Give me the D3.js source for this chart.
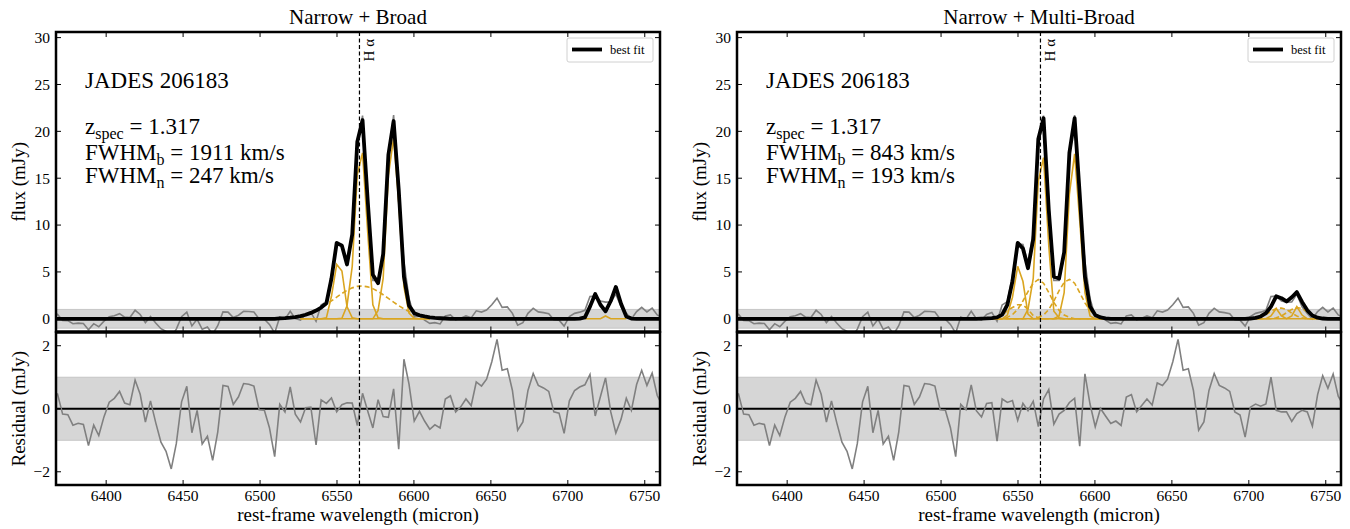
<!DOCTYPE html>
<html>
<head>
<meta charset="utf-8">
<script src="https://cdn.jsdelivr.net/npm/d3@7"></script>
<style>
  body { margin: 0; background: #fff; }
  svg { display: block; font-family: "Liberation Serif", "DejaVu Serif", serif; }
</style>
</head>
<body>
<svg id="chart" width="1350" height="529"></svg>
<script>
// rest-frame wavelength grid of the spectrum (Angstrom)
const WAVE = [
  6365.0, 6368.4, 6371.7, 6375.1, 6378.4, 6381.8, 6385.2, 6388.5, 6391.9, 6395.2,
  6398.6, 6402.0, 6405.3, 6408.7, 6412.0, 6415.4, 6418.8, 6422.1, 6425.5, 6428.8,
  6432.2, 6435.6, 6438.9, 6442.3, 6445.6, 6449.0, 6452.4, 6455.7, 6459.1, 6462.4,
  6465.8, 6469.2, 6472.5, 6475.9, 6479.2, 6482.6, 6486.0, 6489.3, 6492.7, 6496.0,
  6499.4, 6502.8, 6506.1, 6509.5, 6512.8, 6516.2, 6519.6, 6522.9, 6526.3, 6529.6,
  6533.0, 6536.4, 6539.7, 6543.1, 6546.4, 6549.8, 6553.2, 6556.5, 6559.9, 6563.2,
  6566.6, 6570.0, 6573.3, 6576.7, 6580.0, 6583.4, 6586.8, 6590.1, 6593.5, 6596.8,
  6600.2, 6603.6, 6606.9, 6610.3, 6613.6, 6617.0, 6620.4, 6623.7, 6627.1, 6630.4,
  6633.8, 6637.2, 6640.5, 6643.9, 6647.2, 6650.6, 6654.0, 6657.3, 6660.7, 6664.0,
  6667.4, 6670.8, 6674.1, 6677.5, 6680.8, 6684.2, 6687.6, 6690.9, 6694.3, 6697.6,
  6701.0, 6704.4, 6707.7, 6711.1, 6714.4, 6717.8, 6721.2, 6724.5, 6727.9, 6731.2,
  6734.6, 6738.0, 6741.3, 6744.7, 6748.0, 6751.4, 6754.8, 6758.1, 6761.5
];

// observed flux (mJy)
const FLUX_OBS = [
  0.47, 0.47, -0.17, -0.19, -0.52, -0.46, -0.50, -1.17, -0.52, -0.85,
  -0.25, 0.21, 0.33, 0.55, 0.18, 0.13, 0.91, 0.46, -0.42, 0.25,
  -0.44, -1.06, -1.35, -1.91, -1.10, 0.22, 0.71, -0.76, -0.05, -1.12,
  -0.87, -1.64, -0.74, 0.74, 0.71, 0.14, 0.38, 0.80, 0.78, 0.72,
  -0.03, -0.05, -0.60, -1.52, 0.19, -0.03, 0.81, 0.02, -0.13, 0.46,
  0.68, -0.27, 1.48, 1.82, 4.64, 8.00, 7.93, 5.99, 9.18, 18.37,
  21.69, 12.42, 4.09, 4.09, 6.65, 17.23, 21.73, 12.52, 6.07, 2.18,
  0.21, 0.30, -0.14, -0.49, -0.41, -0.55, 0.31, 0.41, -0.10, 0.06,
  0.31, 0.10, 0.85, 0.72, 0.94, 1.49, 2.20, 1.22, 1.27, 0.58,
  -0.68, -0.42, 0.58, 1.12, 0.74, 0.66, 0.55, -0.10, -0.14, -0.78,
  0.25, 0.58, 0.71, 0.91, 2.39, 2.42, 1.89, 1.78, 1.80, 2.63,
  1.27, 0.58, -0.03, 0.77, 1.22, 0.74, 1.13, 0.42, 0.10
];

// best fit, narrow + broad
const MODEL_NB = [
  0, 0, 0, 0, 0, 0, 0, 0, 0, 0,
  0, 0, 0, 0, 0, 0, 0, 0, 0, 0,
  0, 0, 0, 0, 0, 0, 0, 0, 0, 0,
  0, 0, 0, 0, 0, 0, 0, 0, 0, 0,
  0, 0, 0, 0, 0.05, 0.07, 0.12, 0.19, 0.29, 0.43,
  0.63, 0.88, 1.2, 1.65, 4.3, 8.1, 7.8, 5.8, 9.0, 18.9,
  21.2, 12.5, 4.7, 3.8, 6.9, 17.5, 21.1, 13.8, 4.5, 1.4,
  0.6, 0.38, 0.25, 0.16, 0.1, 0.06, 0.03, 0, 0, 0,
  0, 0, 0, 0, 0, 0, 0, 0, 0, 0,
  0, 0, 0, 0, 0, 0, 0, 0, 0, 0,
  0, 0, 0.02, 0.15, 1.3, 2.65, 1.5, 0.8, 1.9, 3.4,
  1.6, 0.25, 0.02, 0, 0, 0, 0, 0, 0
];

// best fit, narrow + multi-broad
const MODEL_NMB = [
  0, 0, 0, 0, 0, 0, 0, 0, 0, 0,
  0, 0, 0, 0, 0, 0, 0, 0, 0, 0,
  0, 0, 0, 0, 0, 0, 0, 0, 0, 0,
  0, 0, 0, 0, 0, 0, 0, 0, 0, 0,
  0, 0, 0, 0, 0, 0, 0, 0, 0.02, 0.04,
  0.08, 0.15, 0.45, 1.5, 4.0, 8.1, 7.5, 5.4, 8.5, 19.2,
  21.4, 11.6, 4.5, 4.3, 7.1, 17.7, 21.4, 13.3, 4.5, 1.3,
  0.4, 0.15, 0.05, 0, 0, 0, 0, 0, 0, 0,
  0, 0, 0, 0, 0, 0, 0, 0, 0, 0,
  0, 0, 0, 0, 0, 0, 0, 0, 0, 0,
  0.03, 0.1, 0.25, 0.6, 1.3, 2.4, 2.2, 1.85, 2.3, 2.85,
  1.8, 0.9, 0.35, 0.12, 0.03, 0, 0, 0, 0
];

// residuals (mJy)
const RESID_NB = [
  0.47, 0.47, -0.17, -0.19, -0.52, -0.46, -0.50, -1.17, -0.52, -0.85,
  -0.25, 0.21, 0.33, 0.55, 0.18, 0.13, 0.91, 0.46, -0.42, 0.25,
  -0.44, -1.06, -1.35, -1.91, -1.10, 0.22, 0.71, -0.76, -0.05, -1.12,
  -0.87, -1.64, -0.74, 0.74, 0.71, 0.14, 0.38, 0.80, 0.78, 0.72,
  -0.03, -0.05, -0.60, -1.52, 0.14, -0.10, 0.69, -0.17, -0.42, 0.03,
  0.05, -1.15, 0.28, 0.17, 0.34, -0.10, 0.13, 0.19, 0.18, -0.53,
  0.49, -0.08, -0.61, 0.29, -0.25, -0.27, 0.63, -1.28, 1.57, 0.78,
  -0.39, -0.08, -0.39, -0.65, -0.51, -0.61, 0.31, 0.41, -0.10, 0.06,
  0.31, 0.10, 0.85, 0.72, 0.94, 1.49, 2.20, 1.22, 1.27, 0.58,
  -0.68, -0.42, 0.58, 1.12, 0.74, 0.66, 0.55, -0.10, -0.14, -0.78,
  0.25, 0.58, 0.69, 0.76, 1.09, -0.23, 0.39, 0.98, -0.10, -0.77,
  -0.33, 0.33, -0.05, 0.77, 1.22, 0.74, 1.13, 0.42, 0.10
];

const RESID_NMB = [
  0.47, 0.47, -0.17, -0.19, -0.52, -0.46, -0.50, -1.17, -0.52, -0.85,
  -0.25, 0.21, 0.33, 0.55, 0.18, 0.13, 0.91, 0.46, -0.42, 0.25,
  -0.44, -1.06, -1.35, -1.91, -1.10, 0.22, 0.71, -0.76, -0.05, -1.12,
  -0.87, -1.64, -0.74, 0.74, 0.71, 0.14, 0.38, 0.80, 0.78, 0.72,
  -0.03, -0.05, -0.60, -1.52, 0.14, -0.03, 0.76, -0.06, -0.26, 0.17,
  0.19, -1.03, 0.31, 0.20, 0.26, -0.37, 0.17, -0.06, 0.24, -0.57,
  0.31, 0.61, -0.49, -0.17, -0.05, 0.20, 0.33, -1.19, 1.11, 0.15,
  -0.57, 0.01, -0.23, -0.47, -0.39, -0.53, 0.37, 0.45, -0.10, 0.10,
  0.31, 0.12, 0.82, 0.74, 0.94, 1.49, 2.20, 1.22, 1.27, 0.58,
  -0.68, -0.42, 0.58, 1.12, 0.74, 0.66, 0.55, -0.10, -0.20, -0.90,
  0.05, 0.15, 0.08, 0.15, 1.00, -0.05, -0.10, -0.10, -0.40, -0.15,
  -0.05, -0.10, -0.55, 0.45, 1.05, 0.65, 1.10, 0.40, 0.10
];

// component windows (index range into WAVE)
const HA_WIN = [48, 73];
const SII_WIN_NB = [103, 111];
const SII_WIN_NMB = [100, 114];

// narrow + broad components
const NB_NII6548 = [0, 0, 0, 0, 0, 0.1, 2.4, 5.8, 5.1, 1.3, 0.1, 0, 0, 0, 0, 0, 0, 0, 0, 0, 0, 0, 0, 0, 0, 0];
const NB_HA_NARROW = [0, 0, 0, 0, 0, 0, 0, 0, 0.05, 1.4, 5.6, 15.4, 17.7, 9.1, 1.5, 0.1, 0, 0, 0, 0, 0, 0, 0, 0, 0, 0];
const NB_NII6585 = [0, 0, 0, 0, 0, 0, 0, 0, 0, 0, 0, 0, 0, 0, 0, 0.9, 4.3, 15.3, 19.3, 12.4, 3.4, 0.6, 0.05, 0, 0, 0];
const NB_HA_BROAD = [0.29, 0.43, 0.63, 0.88, 1.18, 1.53, 1.91, 2.31, 2.70, 3.04, 3.30, 3.46, 3.50, 3.41, 3.22, 2.92, 2.57, 2.17, 1.77, 1.40, 1.06, 0.78, 0.55, 0.38, 0.25, 0.16];
const NB_SII = [0, 0, 0, 0, 0.3, 0, 0, 0, 0];

// narrow + multi-broad components
const NMB_NII6548_N = [0, 0, 0, 0, 0, 0.4, 2.3, 5.6, 4.0, 0.5, 0, 0, 0, 0, 0, 0, 0, 0, 0, 0, 0, 0, 0, 0, 0, 0];
const NMB_NII6548_B = [0, 0, 0, 0, 0.3, 0.9, 1.2, 1.5, 1.5, 1.0, 0.35, 0.1, 0, 0, 0, 0, 0, 0, 0, 0, 0, 0, 0, 0, 0, 0];
const NMB_HA_N = [0, 0, 0, 0, 0, 0, 0, 0, 0, 1.0, 4.3, 14.7, 17.2, 7.8, 0.8, 0.1, 0, 0, 0, 0, 0, 0, 0, 0, 0, 0];
const NMB_HA_B = [0, 0, 0, 0, 0, 0.17, 0.45, 1.0, 1.9, 2.9, 3.8, 4.2, 3.8, 2.8, 1.75, 0.9, 0.4, 0.15, 0, 0, 0, 0, 0, 0, 0, 0];
const NMB_NII6585_N = [0, 0, 0, 0, 0, 0, 0, 0, 0, 0, 0, 0, 0, 0, 0, 0.3, 2.8, 13.3, 17.6, 10.5, 2.8, 0.3, 0, 0, 0, 0];
const NMB_NII6585_B = [0, 0, 0, 0, 0, 0, 0, 0, 0, 0, 0, 0.15, 0.4, 1.0, 1.9, 3.0, 3.9, 4.2, 3.8, 2.8, 1.7, 0.9, 0.35, 0.12, 0, 0];
const NMB_SII6716_N = [0, 0, 0, 0, 0.3, 1.1, 0.3, 0, 0, 0, 0, 0, 0, 0, 0];
const NMB_SII6716_B = [0, 0.05, 0.2, 0.45, 0.8, 1.1, 1.15, 1.0, 0.6, 0.3, 0.1, 0, 0, 0, 0];
const NMB_SII6731_N = [0, 0, 0, 0, 0, 0, 0, 0, 0.3, 1.3, 0.4, 0, 0, 0, 0];
const NMB_SII6731_B = [0, 0, 0, 0, 0, 0.1, 0.3, 0.65, 1.0, 1.2, 1.1, 0.75, 0.35, 0.1, 0];

const X_TICKS = [6400, 6450, 6500, 6550, 6600, 6650, 6700, 6750];
const FLUX_TICKS = [0, 5, 10, 15, 20, 25, 30];
const RES_TICKS = [-2, 0, 2];
const HALPHA = 6564.6;

const PANELS = [
  {
    left: 56, title: "Narrow + Broad", model: MODEL_NB, resid: RESID_NB,
    fwhmB: "1911", fwhmN: "247",
    comps: [
      { win: HA_WIN, v: NB_NII6548, dash: false },
      { win: HA_WIN, v: NB_HA_NARROW, dash: false },
      { win: HA_WIN, v: NB_NII6585, dash: false },
      { win: HA_WIN, v: NB_HA_BROAD, dash: true },
      { win: SII_WIN_NB, v: NB_SII, dash: false }
    ]
  },
  {
    left: 737, title: "Narrow + Multi-Broad", model: MODEL_NMB, resid: RESID_NMB,
    fwhmB: "843", fwhmN: "193",
    comps: [
      { win: HA_WIN, v: NMB_NII6548_N, dash: false },
      { win: HA_WIN, v: NMB_NII6548_B, dash: true },
      { win: HA_WIN, v: NMB_HA_N, dash: false },
      { win: HA_WIN, v: NMB_HA_B, dash: true },
      { win: HA_WIN, v: NMB_NII6585_N, dash: false },
      { win: HA_WIN, v: NMB_NII6585_B, dash: true },
      { win: SII_WIN_NMB, v: NMB_SII6716_N, dash: false },
      { win: SII_WIN_NMB, v: NMB_SII6716_B, dash: true },
      { win: SII_WIN_NMB, v: NMB_SII6731_N, dash: false },
      { win: SII_WIN_NMB, v: NMB_SII6731_B, dash: true }
    ]
  }
];

const W = 604;
const TOP = [32, 331.5];
const RES = [332.5, 485];
const GOLD = "#daa520";
const GRAY = "#808080";

const svg = d3.select("#chart");

// inward ticks on all four sides
function drawTicks(g, x, y, xVals, yVals) {
  const [x0, x1] = x.range();
  const [yb, yt] = y.range();
  const len = 5;
  xVals.forEach(v => {
    g.append("line").attr("x1", x(v)).attr("x2", x(v)).attr("y1", yb).attr("y2", yb - len)
      .attr("stroke", "#000").attr("stroke-width", 1);
    g.append("line").attr("x1", x(v)).attr("x2", x(v)).attr("y1", yt).attr("y2", yt + len)
      .attr("stroke", "#000").attr("stroke-width", 1);
  });
  yVals.forEach(v => {
    g.append("line").attr("x1", x0).attr("x2", x0 + len).attr("y1", y(v)).attr("y2", y(v))
      .attr("stroke", "#000").attr("stroke-width", 1);
    g.append("line").attr("x1", x1).attr("x2", x1 - len).attr("y1", y(v)).attr("y2", y(v))
      .attr("stroke", "#000").attr("stroke-width", 1);
  });
}

function yTickLabels(g, x, y, vals) {
  vals.forEach(v => {
    g.append("text")
      .attr("x", x.range()[0] - 6).attr("y", y(v)).attr("dy", "0.35em")
      .attr("text-anchor", "end").attr("font-size", 15.5)
      .text(v < 0 ? "\u2212" + Math.abs(v) : v);
  });
}

PANELS.forEach((p, pi) => {
  const x = d3.scaleLinear().domain([6367.4, 6759.9]).range([p.left, p.left + W]);
  const yT = d3.scaleLinear().domain([-1.355, 30.6]).range([TOP[1], TOP[0]]);
  const yR = d3.scaleLinear().domain([-2.42, 2.42]).range([RES[1], RES[0]]);
  const g = svg.append("g");

  // clip paths
  const defs = svg.append("defs");
  defs.append("clipPath").attr("id", "clipT" + pi).append("rect")
    .attr("x", p.left).attr("y", TOP[0]).attr("width", W).attr("height", TOP[1] - TOP[0]);
  defs.append("clipPath").attr("id", "clipR" + pi).append("rect")
    .attr("x", p.left).attr("y", RES[0]).attr("width", W).attr("height", RES[1] - RES[0]);

  // ---------- top panel ----------
  const top = g.append("g").attr("clip-path", `url(#clipT${pi})`);
  top.append("rect")
    .attr("x", p.left).attr("width", W)
    .attr("y", yT(1)).attr("height", yT(-1) - yT(1))
    .attr("fill", "#d6d6d6").attr("stroke", "#c6c6c6").attr("stroke-width", 1);

  const lineT = d3.line().x((d, i) => x(WAVE[i])).y(d => yT(d));
  top.append("path").datum(FLUX_OBS).attr("d", lineT)
    .attr("fill", "none").attr("stroke", GRAY).attr("stroke-width", 1.6);

  p.comps.forEach(c => {
    const ws = WAVE.slice(c.win[0], c.win[1] + 1);
    const cl = d3.line().x((d, i) => x(ws[i])).y(d => yT(d));
    top.append("path").datum(c.v).attr("d", cl)
      .attr("fill", "none").attr("stroke", GOLD).attr("stroke-width", 1.6)
      .attr("stroke-dasharray", c.dash ? "5,3" : null);
  });

  top.append("path").datum(p.model).attr("d", lineT)
    .attr("fill", "none").attr("stroke", "#000").attr("stroke-width", 3.8)
    .attr("stroke-linejoin", "round");

  // ---------- residual panel ----------
  const res = g.append("g").attr("clip-path", `url(#clipR${pi})`);
  res.append("rect")
    .attr("x", p.left).attr("width", W)
    .attr("y", yR(1)).attr("height", yR(-1) - yR(1))
    .attr("fill", "#d6d6d6").attr("stroke", "#c6c6c6").attr("stroke-width", 1);
  res.append("line")
    .attr("x1", p.left).attr("x2", p.left + W).attr("y1", yR(0)).attr("y2", yR(0))
    .attr("stroke", "#000").attr("stroke-width", 2);
  const lineR = d3.line().x((d, i) => x(WAVE[i])).y(d => yR(d));
  res.append("path").datum(p.resid).attr("d", lineR)
    .attr("fill", "none").attr("stroke", GRAY).attr("stroke-width", 1.6);

  // H alpha marker
  g.append("line")
    .attr("x1", x(HALPHA)).attr("x2", x(HALPHA)).attr("y1", TOP[0]).attr("y2", RES[1])
    .attr("stroke", "#000").attr("stroke-width", 1.2).attr("stroke-dasharray", "4,2.5");
  g.append("text")
    .attr("transform", `translate(${x(HALPHA) + 15},${TOP[0] + 7}) rotate(-90)`)
    .attr("text-anchor", "end").attr("font-size", 15)
    .text("H \u03b1");

  // ticks + frames
  drawTicks(g, x, yT, X_TICKS, FLUX_TICKS);
  drawTicks(g, x, yR, X_TICKS, RES_TICKS);
  [TOP, RES].forEach(r => {
    g.append("rect").attr("x", p.left).attr("y", r[0]).attr("width", W).attr("height", r[1] - r[0])
      .attr("fill", "none").attr("stroke", "#000").attr("stroke-width", 2.5);
  });

  yTickLabels(g, x, yT, FLUX_TICKS);
  yTickLabels(g, x, yR, RES_TICKS);
  X_TICKS.forEach(v => {
    g.append("text").attr("x", x(v)).attr("y", 501)
      .attr("text-anchor", "middle").attr("font-size", 15.5).text(v);
  });

  // axis labels + title
  g.append("text").attr("x", p.left + W / 2).attr("y", 521)
    .attr("text-anchor", "middle").attr("font-size", 19)
    .text("rest-frame wavelength (micron)");
  g.append("text")
    .attr("transform", `translate(${p.left - 31},${(TOP[0] + TOP[1]) / 2}) rotate(-90)`)
    .attr("text-anchor", "middle").attr("font-size", 19).text("flux (mJy)");
  g.append("text")
    .attr("transform", `translate(${p.left - 31},${yR(0)}) rotate(-90)`)
    .attr("text-anchor", "middle").attr("font-size", 19).text("Residual (mJy)");
  g.append("text").attr("x", p.left + W / 2).attr("y", 24)
    .attr("text-anchor", "middle").attr("font-size", 21).text(p.title);

  // annotation block
  const tx = p.left + 29;
  g.append("text").attr("x", tx).attr("y", 88).attr("font-size", 23).text("JADES 206183");
  const rows = [
    { y: 134, main: "z", sub: "spec", rest: " = 1.317" },
    { y: 160, main: "FWHM", sub: "b", rest: " = " + p.fwhmB + " km/s" },
    { y: 183, main: "FWHM", sub: "n", rest: " = " + p.fwhmN + " km/s" }
  ];
  rows.forEach(r => {
    const t = g.append("text").attr("x", tx).attr("y", r.y).attr("font-size", 23);
    t.append("tspan").text(r.main);
    t.append("tspan").attr("dy", 5).attr("font-size", 16).text(r.sub);
    t.append("tspan").attr("dy", -5).text(r.rest);
  });

  // legend
  const lx = p.left + W - 93, ly = 38;
  g.append("rect").attr("x", lx).attr("y", ly).attr("width", 86).attr("height", 24)
    .attr("rx", 2).attr("fill", "#fff").attr("stroke", "#d0d0d0").attr("stroke-width", 1);
  g.append("line").attr("x1", lx + 5).attr("x2", lx + 35).attr("y1", ly + 11.5).attr("y2", ly + 11.5)
    .attr("stroke", "#000").attr("stroke-width", 3.8);
  g.append("text").attr("x", lx + 43).attr("y", ly + 16).attr("font-size", 12.5).text("best fit");
});
</script>
</body>
</html>
